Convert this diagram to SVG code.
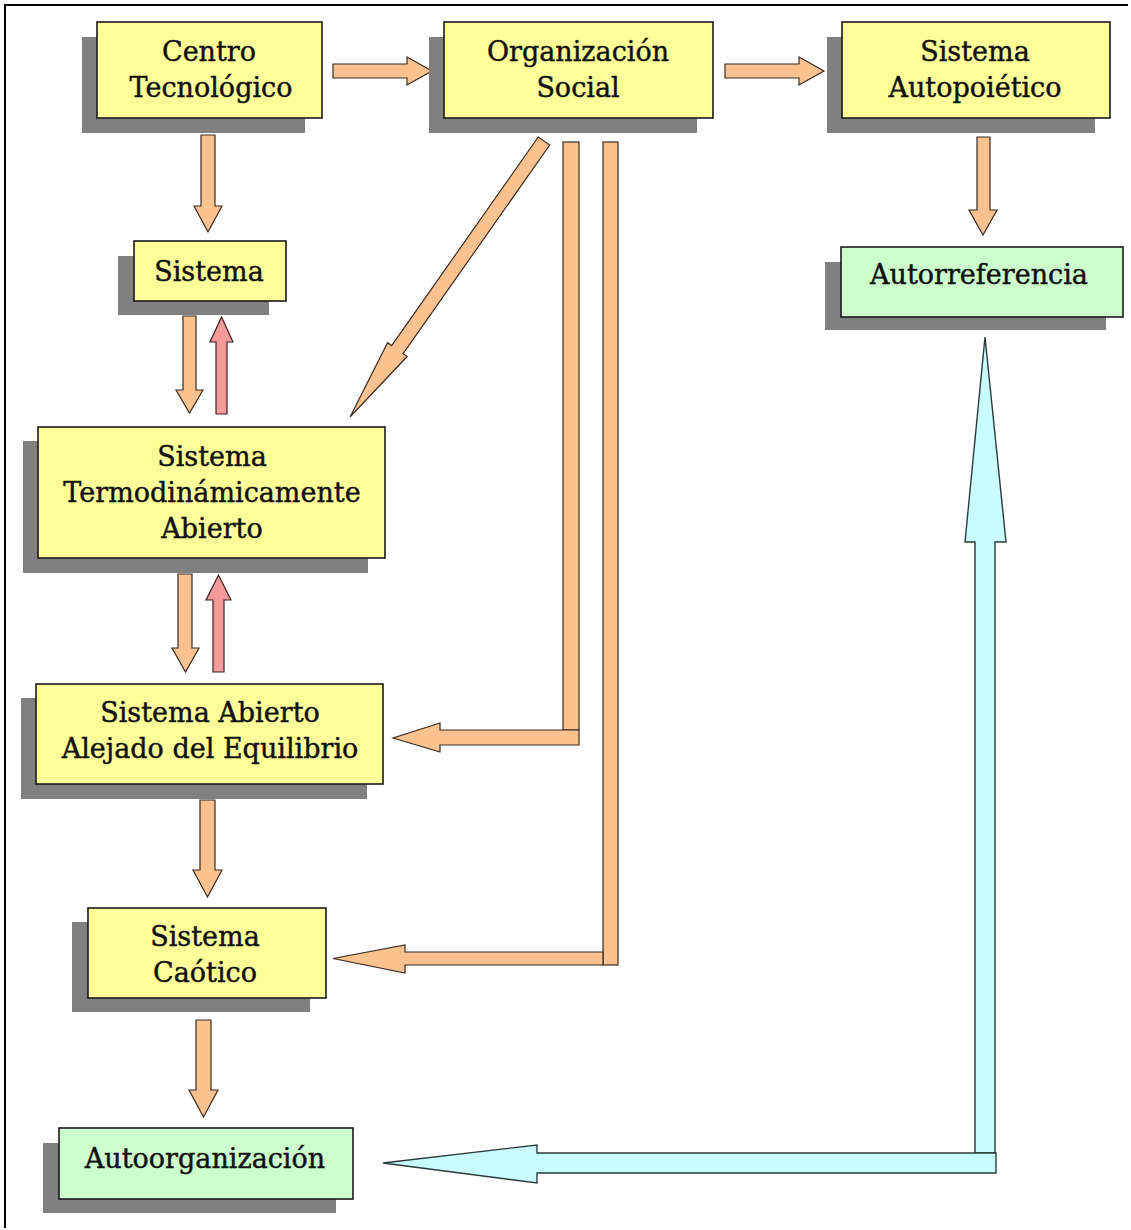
<svg xmlns="http://www.w3.org/2000/svg" width="1131" height="1230" viewBox="0 0 1131 1230">
  <style>
    .shadow { fill: #808080; }
    .box { stroke: #1a1a1a; stroke-width: 1.6; }
    .yellow { fill: #FFFF99; }
    .green { fill: #CCFFCC; }
    .lbl { font-family: "DejaVu Serif", "Liberation Serif", serif; font-size: 27px; fill: #111; stroke: #111; stroke-width: 0.45; text-anchor: middle; }
    .orange { fill: #F9C28F; stroke: #3a2a20; stroke-width: 1.2; stroke-linejoin: miter; }
    .pink { fill: #F49A9A; stroke: #3a2020; stroke-width: 1.2; }
    .cyan { fill: #C8FCFF; stroke: #2a3a3a; stroke-width: 1.4; }
  </style>

  <rect width="1131" height="1230" fill="#ffffff"/>
  <!-- outer frame -->
  <path d="M5 1228 V5 H1128" fill="none" stroke="#000" stroke-width="2"/>

  <!-- connectors -->
  <g id="connectors">
    <!-- Centro Tecnológico -> Organización Social -->
    <polygon class="orange" points="333,64 407,64 407,57 432,71 407,85 407,78 333,78"/>
    <!-- Organización Social -> Sistema Autopoiético -->
    <polygon class="orange" points="725,64 799,64 799,57 824,71 799,85 799,78 725,78"/>
    <!-- Centro Tecnológico -> Sistema -->
    <polygon class="orange" points="201,135 215,135 215,206 222,206 208,232 194,206 201,206"/>
    <!-- Sistema Autopoiético -> Autorreferencia -->
    <polygon class="orange" points="977,137 990,137 990,210 997,210 983,235 969,210 977,210"/>
    <!-- Sistema <-> Sistema Termodinámicamente Abierto -->
    <polygon class="orange" points="183,316 196,316 196,390 203,390 189.5,413 176,390 183,390"/>
    <polygon class="pink" points="216,414 227,414 227,342 233,342 221.5,317 210,342 216,342"/>
    <!-- Termodinámicamente Abierto <-> Alejado del Equilibrio -->
    <polygon class="orange" points="178,574 192,574 192,648 199,648 185.5,672 172,648 178,648"/>
    <polygon class="pink" points="213,672 224,672 224,600 231,600 218.5,575 206,600 213,600"/>
    <!-- Alejado del Equilibrio -> Caótico -->
    <polygon class="orange" points="200,800 215,800 215,870 222,870 207.5,897 193,870 200,870"/>
    <!-- Caótico -> Autoorganización -->
    <polygon class="orange" points="196,1020 211,1020 211,1090 218,1090 203.5,1117 189,1090 196,1090"/>
    <!-- Organización Social -> Termodinámicamente Abierto (diagonal) -->
    <polygon class="orange" transform="translate(544,141) rotate(125.1)" points="0,-7 255,-7 255,-12 337,0 255,12 255,7 0,7"/>
    <!-- Organización Social -> Alejado del Equilibrio (bent) -->
    <rect class="orange" x="563" y="142" width="16" height="588"/>
    <polygon class="orange" points="579,730 579,745 440,745 440,752 393,738 440,723 440,730"/>
    <!-- Organización Social -> Caótico (bent) -->
    <rect class="orange" x="603" y="142" width="15" height="823"/>
    <polygon class="orange" points="603,952 603,965 405,965 405,973 333,958.5 405,945 405,952"/>
    <!-- Autoorganización <-> Autorreferencia (feedback loop) -->
    <polygon class="cyan" points="975,1153 975,542 965,542 985,337 1006,542 995,542 995,1153"/>
    <polygon class="cyan" points="996,1153 996,1173 537,1173 537,1183 383,1163 537,1145 537,1153"/>
  </g>

  <g id="centro-tecnologico">
    <rect class="shadow" x="82" y="37" width="223" height="96"/>
    <rect class="box yellow" x="97" y="22" width="225" height="96"/>
    <text class="lbl" x="209" y="61">Centro</text>
    <text class="lbl" x="211" y="97">Tecnológico</text>
  </g>

  <g id="organizacion-social">
    <rect class="shadow" x="429" y="37" width="268" height="96"/>
    <rect class="box yellow" x="444" y="22" width="269" height="96"/>
    <text class="lbl" x="578" y="61">Organización</text>
    <text class="lbl" x="578" y="97">Social</text>
  </g>

  <g id="sistema-autopoietico">
    <rect class="shadow" x="827" y="37" width="268" height="96"/>
    <rect class="box yellow" x="842" y="22" width="268" height="96"/>
    <text class="lbl" x="975" y="61">Sistema</text>
    <text class="lbl" x="975" y="97">Autopoiético</text>
  </g>

  <g id="autorreferencia">
    <rect class="shadow" x="825" y="262" width="281" height="68"/>
    <rect class="box green" x="841" y="247" width="282" height="70"/>
    <text class="lbl" x="979" y="284">Autorreferencia</text>
  </g>

  <g id="sistema">
    <rect class="shadow" x="118" y="256" width="151" height="59"/>
    <rect class="box yellow" x="134" y="241" width="152" height="60"/>
    <text class="lbl" x="209" y="281">Sistema</text>
  </g>

  <g id="sistema-termodinamicamente-abierto">
    <rect class="shadow" x="23" y="441" width="345" height="132"/>
    <rect class="box yellow" x="38" y="427" width="347" height="131"/>
    <text class="lbl" x="212" y="466">Sistema</text>
    <text class="lbl" x="212" y="502">Termodinámicamente</text>
    <text class="lbl" x="212" y="538">Abierto</text>
  </g>

  <g id="sistema-abierto-alejado">
    <rect class="shadow" x="21" y="698" width="346" height="101"/>
    <rect class="box yellow" x="36" y="684" width="347" height="100"/>
    <text class="lbl" x="210" y="722">Sistema Abierto</text>
    <text class="lbl" x="210" y="758">Alejado del Equilibrio</text>
  </g>

  <g id="sistema-caotico">
    <rect class="shadow" x="72" y="922" width="238" height="90"/>
    <rect class="box yellow" x="88" y="908" width="238" height="90"/>
    <text class="lbl" x="205" y="946">Sistema</text>
    <text class="lbl" x="205" y="982">Caótico</text>
  </g>

  <g id="autoorganizacion">
    <rect class="shadow" x="43" y="1143" width="293" height="70"/>
    <rect class="box green" x="59" y="1128" width="294" height="71"/>
    <text class="lbl" x="205" y="1168">Autoorganización</text>
  </g>
</svg>
